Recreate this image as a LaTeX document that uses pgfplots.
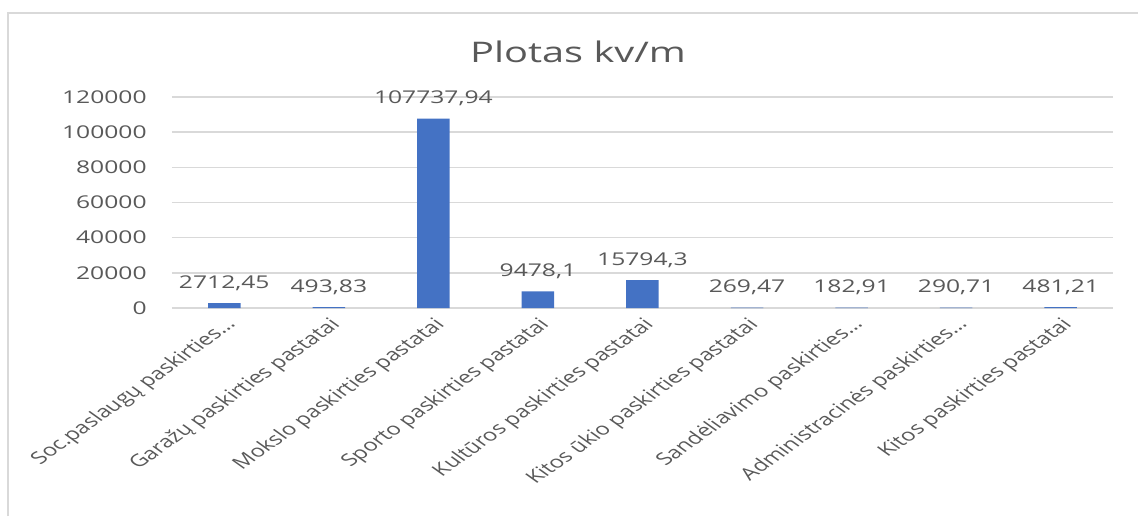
\documentclass[border=0pt]{standalone}
\usepackage{fontspec}
\setmainfont{Open Sans}[FakeStretch=1.4]
\newfontfamily\catfont{Open Sans}
\usepackage{pgfplots}
\usepackage{pgfplotstable}
\pgfplotsset{compat=1.18}

\definecolor{barblue}{HTML}{4472C4}
\definecolor{txtgray}{HTML}{595959}
\definecolor{gridgray}{HTML}{D9D9D9}

\pgfplotstableread{
x y label
0 2712.45 2712,45
1 493.83 493,83
2 107737.94 107737,94
3 9478.1 9478,1
4 15794.3 15794,3
5 269.47 269,47
6 182.91 182,91
7 290.71 290,71
8 481.21 481,21
}\plotas

\begin{document}
\begin{tikzpicture}
\useasboundingbox (0,0) rectangle (569pt,-258pt);
% chart frame (partly cut off in the reference)
\draw[gridgray, line width=0.8pt] (4pt,-258pt) -- (4pt,-6.5pt) -- (569pt,-6.5pt);
\node[anchor=base, text=txtgray, font=\fontsize{14.2}{17}\selectfont] at (289pt,-31pt) {Plotas kv/m};
\begin{axis}[
    at={(86pt,-154pt)}, anchor=south west,
    scale only axis,
    width=470.5pt, height=105.5pt,
    xmin=-0.5, xmax=8.5,
    ymin=0, ymax=120000,
    ytick={0,20000,40000,60000,80000,100000,120000},
    scaled y ticks=false,
    xtick=data,
    xticklabels={Soc.paslaugų paskirties…,Garažų paskirties pastatai,Mokslo paskirties pastatai,Sporto paskirties pastatai,Kultūros paskirties pastatai,Kitos ūkio paskirties pastatai,Sandėliavimo paskirties…,Administracinės paskirties…,Kitos paskirties pastatai},
    axis line style={draw=none},
    major tick length=0pt,
    ymajorgrids,
    grid style={gridgray, line width=0.75pt},
    /pgf/number format/fixed,
    /pgf/number format/precision=0,
    /pgf/number format/1000 sep={},
    /pgf/number format/assume math mode=true,
    tick label style={text=txtgray, font=\fontsize{8.8}{10}\selectfont},
    yticklabel style={inner sep=0pt, xshift=-12.5pt},
    xticklabel style={font=\catfont\fontsize{8.5}{10}\selectfont, anchor=east, inner sep=0pt,
        xshift=4pt, yshift=-7pt, xscale=1.4, rotate=45},
    ybar, bar width=16.25pt,
    point meta=explicit symbolic,
    nodes near coords,
    nodes near coords style={text=txtgray, font=\fontsize{8.8}{10}\selectfont, anchor=base, inner sep=0pt, yshift=7.5pt},
]
\draw[gridgray, line width=0.75pt] (axis cs:-0.5,0) -- (axis cs:8.5,0);
\addplot[fill=barblue, draw=none] table[x=x, y=y, meta=label] {\plotas};
\end{axis}
\end{tikzpicture}
\end{document}
